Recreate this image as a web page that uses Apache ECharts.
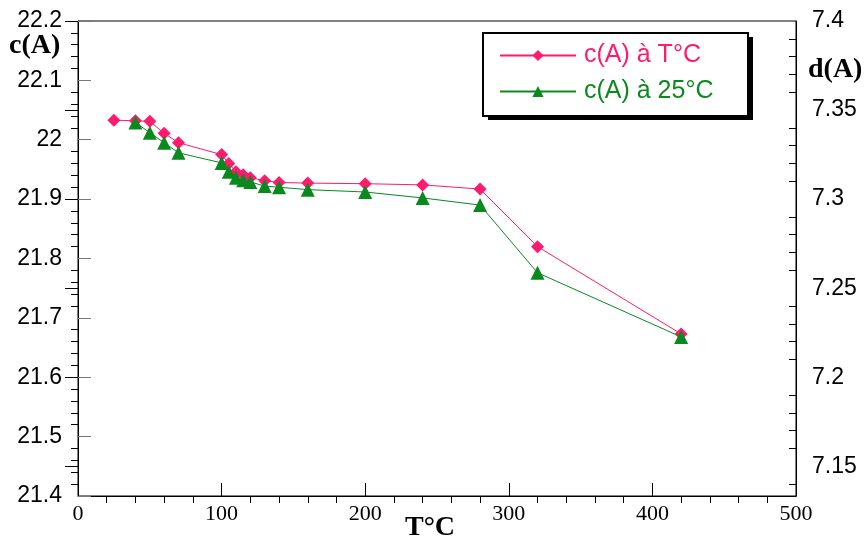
<!DOCTYPE html>
<html><head><meta charset="utf-8">
<script src="https://cdn.jsdelivr.net/npm/echarts@6/dist/echarts.min.js"></script>
<style>html,body{margin:0;padding:0;background:#fff}#c{width:868px;height:537px}</style>
</head><body><div id="c"></div>
<script>
// Data
const tempT = [25, 40, 50, 60, 70, 100, 105, 110, 115, 120, 130, 140, 160, 200, 240, 280, 320, 420];
const cAtT  = [22.033, 22.032, 22.031, 22.011, 21.995, 21.975, 21.960, 21.946, 21.941, 21.936, 21.931, 21.928, 21.927, 21.926, 21.924, 21.917, 21.820, 21.673];
const temp25 = [40, 50, 60, 70, 100, 105, 110, 115, 120, 130, 140, 160, 200, 240, 280, 320, 420];
const cAt25  = [22.029, 22.012, 21.995, 21.978, 21.961, 21.946, 21.936, 21.932, 21.929, 21.922, 21.920, 21.916, 21.912, 21.902, 21.890, 21.776, 21.668];
const xMajor = [0, 100, 200, 300, 400, 500];
const leftMajor = [21.4, 21.5, 21.6, 21.7, 21.8, 21.9, 22, 22.1, 22.2];
const rightMajor = [7.15, 7.2, 7.25, 7.3, 7.35, 7.4];
const rightMinor = [7.14, 7.16, 7.17, 7.18, 7.19, 7.21, 7.22, 7.23, 7.24, 7.26, 7.27, 7.28, 7.29, 7.31, 7.32, 7.33, 7.34, 7.36, 7.37, 7.38, 7.39];
const names = ['c(A) à T°C', 'c(A) à 25°C'];
const colors = ['#ff1a6e', '#0a8a1e'];

const zip = (a, b) => a.map((v, i) => [v, b[i]]);
const chart = echarts.init(document.getElementById('c'), null, {renderer: 'canvas'});
const sans = 'Liberation Sans, Arial, sans-serif';
const serif = 'Liberation Serif, Times New Roman, serif';
const tickOnly = (extra) => Object.assign({
  type: 'value', axisLine: {show: false}, splitLine: {show: false}, axisLabel: {show: false}
}, extra);
chart.setOption({
  animation: false,
  backgroundColor: '#fff',
  grid: {left: 78, right: 72, top: 21, bottom: 41, show: true, borderColor: '#000', borderWidth: 1,
         containLabel: false, outerBoundsMode: 'none'},
  xAxis: [
    {
      type: 'value', min: 0, max: 500, interval: 100,
      axisLine: {show: true, onZero: false, lineStyle: {color: '#000', width: 1}},
      axisTick: {show: false},
      minorTick: {show: true, splitNumber: 5, length: 7, lineStyle: {color: '#000', width: 1}},
      splitLine: {show: false},
      axisLabel: {fontFamily: serif, fontSize: 22, color: '#000', margin: 7}
    },
    tickOnly({min: 0, max: 500, position: 'bottom',
      axisTick: {show: true, inside: true, length: 13, customValues: xMajor, lineStyle: {color: '#000', width: 1}}})
  ],
  yAxis: [
    {
      type: 'value', min: 21.4, max: 22.2, interval: 0.1, position: 'left',
      axisLine: {show: true, onZero: false, lineStyle: {color: '#000', width: 1}},
      axisTick: {show: false},
      minorTick: {show: true, splitNumber: 5, length: 7, lineStyle: {color: '#000', width: 1}},
      splitLine: {show: false},
      axisLabel: {show: true, fontFamily: sans, fontSize: 23, color: '#000', margin: 16}
    },
    {
      type: 'value', min: 21.4 / 3, max: 7.4, position: 'right',
      axisLine: {show: true, onZero: false, lineStyle: {color: '#000', width: 1}},
      axisTick: {show: false},
      splitLine: {show: false},
      axisLabel: {fontFamily: sans, fontSize: 23, color: '#000', margin: 16, customValues: rightMajor}
    },
    tickOnly({min: 21.4, max: 22.2, position: 'left',
      axisTick: {show: true, inside: true, length: 13, customValues: leftMajor, lineStyle: {color: '#777', width: 1}}}),
    tickOnly({min: 21.4 / 3, max: 7.4, position: 'right',
      axisTick: {show: true, inside: true, length: 13, customValues: rightMajor, lineStyle: {color: '#000', width: 1}}}),
    tickOnly({min: 21.4 / 3, max: 7.4, position: 'right',
      axisTick: {show: true, inside: true, length: 7, customValues: rightMinor, lineStyle: {color: '#000', width: 1}}})
  ],
  legend: {
    orient: 'vertical', left: 499, top: 43, padding: 0, itemGap: 11, z: 100,
    itemWidth: 76, itemHeight: 14,
    textStyle: {fontFamily: sans, fontSize: 25, padding: [0, 0, 0, 3]},
    data: [
      {name: names[0], textStyle: {color: colors[0]}},
      {name: names[1], textStyle: {color: colors[1]}}
    ]
  },
  graphic: [
    {type: 'rect', left: 488, top: 37, shape: {width: 265, height: 83}, style: {fill: '#000'}, z: 50},
    {type: 'rect', left: 482, top: 32, shape: {width: 265, height: 83}, style: {fill: '#fff', stroke: '#000', lineWidth: 2}, z: 51},
    {type: 'text', left: 9, top: 32, style: {text: 'c(A)', font: 'bold 28px ' + serif, fill: '#000'}},
    {type: 'text', left: 808, top: 56, style: {text: 'd(A)', font: 'bold 28px ' + serif, fill: '#000'}},
    {type: 'text', left: 405, top: 514, style: {text: 'T°C', font: 'bold 28px ' + serif, fill: '#000'}}
  ],
  series: [
    {
      name: names[0], type: 'line', xAxisIndex: 0, yAxisIndex: 0, data: zip(tempT, cAtT),
      symbol: 'diamond', symbolSize: 13, showAllSymbol: true,
      lineStyle: {color: colors[0], width: 1}, itemStyle: {color: colors[0]}, z: 3
    },
    {
      name: names[1], type: 'line', xAxisIndex: 0, yAxisIndex: 0, data: zip(temp25, cAt25),
      symbol: 'triangle', symbolSize: 14, showAllSymbol: true,
      lineStyle: {color: colors[1], width: 1}, itemStyle: {color: colors[1]}, z: 4
    }
  ]
});
</script></body></html>
